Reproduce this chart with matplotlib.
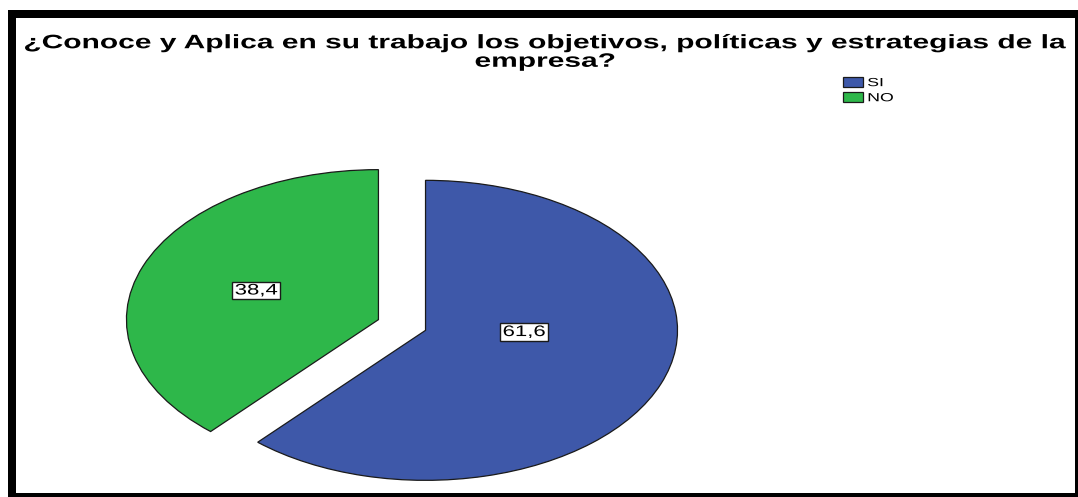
import matplotlib
matplotlib.use("Agg")
import matplotlib.pyplot as plt
from matplotlib.patches import Rectangle
from matplotlib.patheffects import AbstractPathEffect
from matplotlib.transforms import Affine2D

plt.rcParams['font.family'] = ['Liberation Sans', 'DejaVu Sans']

title = "¿Conoce y Aplica en su trabajo los objetivos, políticas y estrategias de la\nempresa?"
categories = ["SI", "NO"]
values = [61.6, 38.4]
colors = ["#3e58a9", "#2eb74a"]

W, H = 1078, 497


class HStretch(AbstractPathEffect):
    """Widen a drawn path horizontally about its own centre or left edge."""

    def __init__(self, sx, anchor="center"):
        super().__init__()
        self.sx = sx
        self.anchor = anchor

    def draw_path(self, renderer, gc, tpath, affine, rgbFace=None):
        xs = affine.transform(tpath.vertices)[:, 0]
        cx = xs.min() if self.anchor == "left" else 0.5 * (xs.min() + xs.max())
        t = affine + Affine2D().translate(-cx, 0).scale(self.sx, 1).translate(cx, 0)
        renderer.draw_path(gc, tpath, t, rgbFace)


fig = plt.figure(figsize=(W / 100, H / 100), dpi=100)
fig.patch.set_facecolor("white")

# Stretched pie: axes with auto aspect so the circle becomes an ellipse
ax = fig.add_axes([0.0924, 0.0141, 0.561, 0.664])
wedges, _ = ax.pie(values, colors=colors, startangle=90, counterclock=False,
                   explode=[0.1, 0.1], radius=1.0,
                   wedgeprops=dict(edgecolor="#1a1a1a", linewidth=0.9))
ax.set_aspect("auto")
ax.set_xlim(-1.2, 1.2)
ax.set_ylim(-1.1, 1.1)
ax.axis("off")
for w in wedges:
    w.set_clip_on(False)

# Value labels in white boxes
label_pos = [(0.484, -0.047), (-0.579, 0.23)]
for v, (x, y) in zip(values, label_pos):
    t = ax.text(x, y, f"{v:.1f}".replace(".", ","), ha="center", va="center",
                fontsize=11, color="black",
                bbox=dict(boxstyle="square,pad=0.12", fc="white", ec="#1a1a1a", lw=1.0))
    t.set_path_effects([HStretch(1.45)])
    t.get_bbox_patch().set_path_effects([HStretch(1.45)])

# Title
tt = fig.text(545 / W, 1 - 53 / H, title, ha="center", va="center",
              fontsize=14, fontweight="bold", linespacing=1.12)
tt.set_path_effects([HStretch(1.54)])

# Legend
leg = fig.legend(wedges, categories, loc="upper left",
                 bbox_to_anchor=(843 / W, 1 - 77 / H), frameon=False,
                 fontsize=8.5, handlelength=1.7, handleheight=0.95,
                 handletextpad=0.35, labelspacing=0.25, borderpad=0.0,
                 borderaxespad=0.0)
for txt in leg.get_texts():
    txt.set_path_effects([HStretch(1.5, anchor="left")])

# Frame: heavy top/left edges, lighter right/bottom edges
def px_rect(x0, y0, x1, y1):
    fig.add_artist(Rectangle((x0 / W, 1 - y1 / H), (x1 - x0) / W, (y1 - y0) / H,
                             transform=fig.transFigure, facecolor="black",
                             edgecolor="none", zorder=10))

px_rect(8, 10, 1078, 18)
px_rect(8, 10, 16, 497)
px_rect(1075, 10, 1078, 497)
px_rect(8, 493, 1078, 497)

fig.savefig("out.png", dpi=100, facecolor="white")
